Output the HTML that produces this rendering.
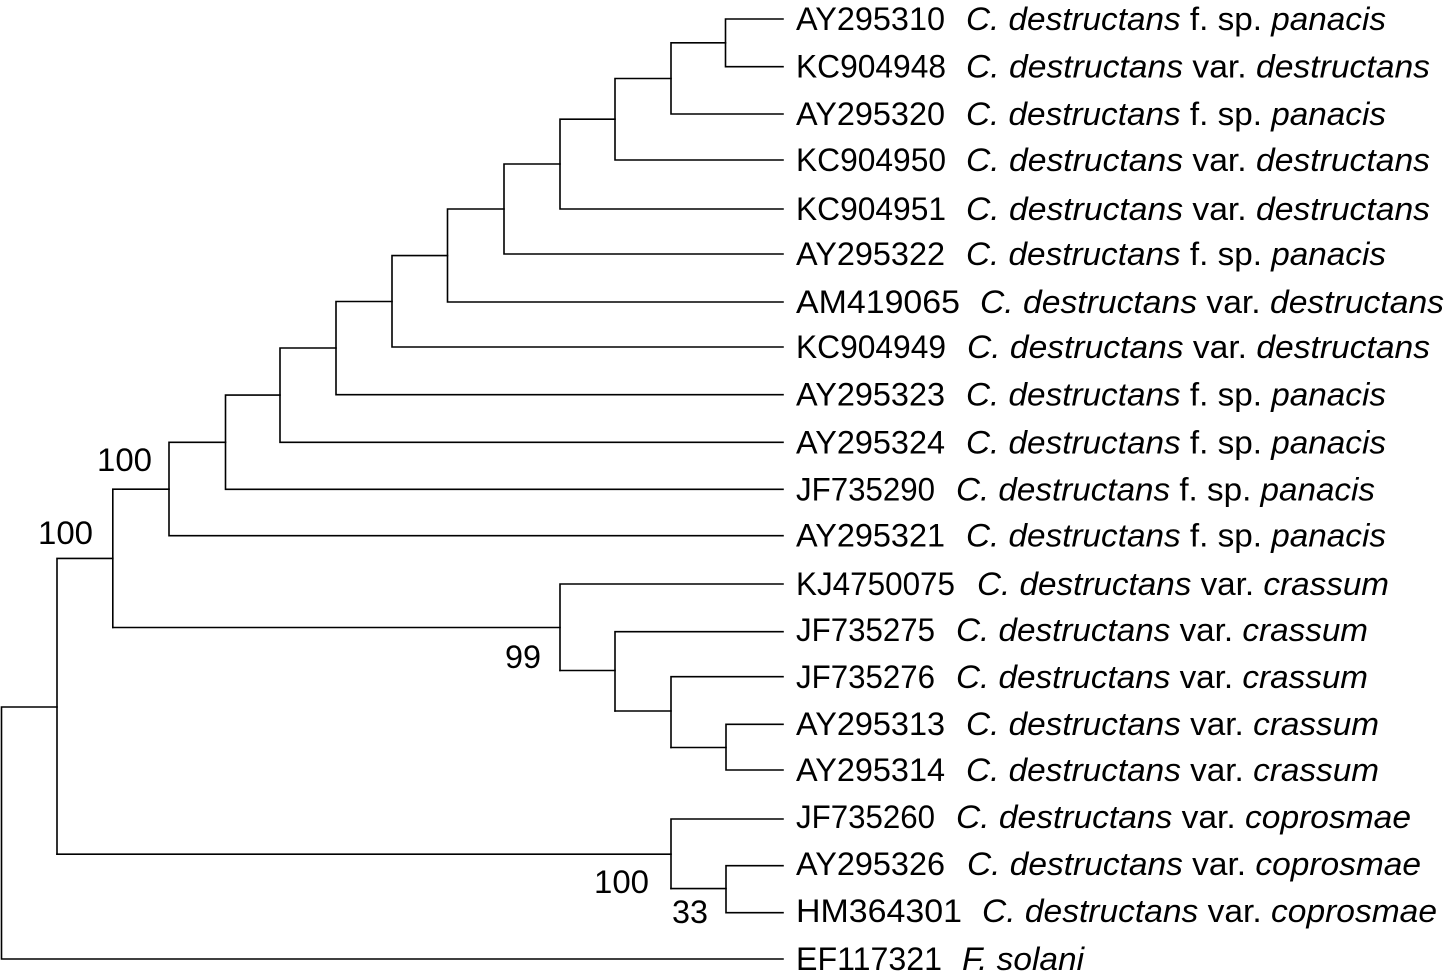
<!DOCTYPE html>
<html>
<head>
<meta charset="utf-8">
<style>
  html, body { margin: 0; padding: 0; background: #ffffff; }
  svg { display: block; }
  text { font-family: "Liberation Sans", Arial, sans-serif; font-size: 32px; fill: #000; }
  .i { font-style: italic; }
</style>
</head>
<body>
<svg width="1447" height="978" viewBox="0 0 1447 978" xmlns="http://www.w3.org/2000/svg">
  <g stroke="#000" stroke-width="1.6" fill="none" stroke-linecap="square">
    <!-- A -->
    <path d="M783 19 H725.5 V66.7 H783"/>
    <!-- B -->
    <path d="M725.5 42.8 H671 V114 H783"/>
    <!-- C -->
    <path d="M671 78.5 H615 V160 H783"/>
    <!-- D -->
    <path d="M615 119.2 H560 V209 H783"/>
    <!-- E -->
    <path d="M560 164 H504 V254 H783"/>
    <!-- F -->
    <path d="M504 209 H447.5 V302 H783"/>
    <!-- G -->
    <path d="M447.5 255.6 H392 V347 H783"/>
    <!-- H -->
    <path d="M392 301.5 H336 V394.7 H783"/>
    <!-- I -->
    <path d="M336 348 H280 V442.3 H783"/>
    <!-- J -->
    <path d="M280 395.1 H225.5 V489.3 H783"/>
    <!-- K -->
    <path d="M225.5 442.3 H169 V535.7 H783"/>
    <!-- L -->
    <path d="M169 489.2 H112.8 V627.5"/>
    <!-- M -->
    <path d="M112.8 627.5 H560"/>
    <path d="M783 584 H560 V670.5"/>
    <!-- N -->
    <path d="M560 670.5 H615 V631.7 H783"/>
    <path d="M615 670.5 V711"/>
    <!-- O -->
    <path d="M615 711 H671 V676.7 H783"/>
    <path d="M671 711 V747.5"/>
    <!-- P -->
    <path d="M671 747.5 H726 V724.3 H783"/>
    <path d="M726 747.5 V770 H783"/>
    <!-- Q -->
    <path d="M112.8 558.4 H57 V854.2"/>
    <!-- R -->
    <path d="M57 854.2 H671 V819 H783"/>
    <path d="M671 854.2 V888.6"/>
    <!-- S -->
    <path d="M671 888.6 H726 V865.7 H783"/>
    <path d="M726 888.6 V912.7 H783"/>
    <!-- Root -->
    <path d="M57 707 H1.5 V959 H783"/>
  </g>

  <!-- bootstrap labels -->
  <text x="97" y="471" textLength="55" lengthAdjust="spacingAndGlyphs">100</text>
  <text x="38" y="544" textLength="55" lengthAdjust="spacingAndGlyphs">100</text>
  <text x="505" y="668" textLength="36" lengthAdjust="spacingAndGlyphs">99</text>
  <text x="594" y="893" textLength="55" lengthAdjust="spacingAndGlyphs">100</text>
  <text x="672" y="923" textLength="36" lengthAdjust="spacingAndGlyphs">33</text>

  <!-- leaf labels -->
  <text x="796" y="30" textLength="149" lengthAdjust="spacingAndGlyphs">AY295310</text>
  <text x="966" y="30" textLength="420" lengthAdjust="spacingAndGlyphs"><tspan class="i">C. destructans</tspan> f. sp. <tspan class="i">panacis</tspan></text>

  <text x="796" y="77.7" textLength="150" lengthAdjust="spacingAndGlyphs">KC904948</text>
  <text x="966" y="77.7" textLength="464" lengthAdjust="spacingAndGlyphs"><tspan class="i">C. destructans</tspan> var. <tspan class="i">destructans</tspan></text>

  <text x="796" y="125" textLength="149" lengthAdjust="spacingAndGlyphs">AY295320</text>
  <text x="966" y="125" textLength="420" lengthAdjust="spacingAndGlyphs"><tspan class="i">C. destructans</tspan> f. sp. <tspan class="i">panacis</tspan></text>

  <text x="796" y="171" textLength="150" lengthAdjust="spacingAndGlyphs">KC904950</text>
  <text x="966" y="171" textLength="464" lengthAdjust="spacingAndGlyphs"><tspan class="i">C. destructans</tspan> var. <tspan class="i">destructans</tspan></text>

  <text x="796" y="220" textLength="150" lengthAdjust="spacingAndGlyphs">KC904951</text>
  <text x="966" y="220" textLength="464" lengthAdjust="spacingAndGlyphs"><tspan class="i">C. destructans</tspan> var. <tspan class="i">destructans</tspan></text>

  <text x="796" y="265" textLength="149" lengthAdjust="spacingAndGlyphs">AY295322</text>
  <text x="966" y="265" textLength="420" lengthAdjust="spacingAndGlyphs"><tspan class="i">C. destructans</tspan> f. sp. <tspan class="i">panacis</tspan></text>

  <text x="796" y="313" textLength="164" lengthAdjust="spacingAndGlyphs">AM419065</text>
  <text x="980" y="313" textLength="464" lengthAdjust="spacingAndGlyphs"><tspan class="i">C. destructans</tspan> var. <tspan class="i">destructans</tspan></text>

  <text x="796" y="358" textLength="150" lengthAdjust="spacingAndGlyphs">KC904949</text>
  <text x="967" y="358" textLength="463" lengthAdjust="spacingAndGlyphs"><tspan class="i">C. destructans</tspan> var. <tspan class="i">destructans</tspan></text>

  <text x="796" y="405.7" textLength="149" lengthAdjust="spacingAndGlyphs">AY295323</text>
  <text x="966" y="405.7" textLength="420" lengthAdjust="spacingAndGlyphs"><tspan class="i">C. destructans</tspan> f. sp. <tspan class="i">panacis</tspan></text>

  <text x="796" y="453.3" textLength="149" lengthAdjust="spacingAndGlyphs">AY295324</text>
  <text x="966" y="453.3" textLength="420" lengthAdjust="spacingAndGlyphs"><tspan class="i">C. destructans</tspan> f. sp. <tspan class="i">panacis</tspan></text>

  <text x="796" y="500.3" textLength="139" lengthAdjust="spacingAndGlyphs">JF735290</text>
  <text x="956" y="500.3" textLength="419" lengthAdjust="spacingAndGlyphs"><tspan class="i">C. destructans</tspan> f. sp. <tspan class="i">panacis</tspan></text>

  <text x="796" y="546.7" textLength="149" lengthAdjust="spacingAndGlyphs">AY295321</text>
  <text x="966" y="546.7" textLength="420" lengthAdjust="spacingAndGlyphs"><tspan class="i">C. destructans</tspan> f. sp. <tspan class="i">panacis</tspan></text>

  <text x="796" y="595" textLength="159" lengthAdjust="spacingAndGlyphs">KJ4750075</text>
  <text x="977" y="595" textLength="412" lengthAdjust="spacingAndGlyphs"><tspan class="i">C. destructans</tspan> var. <tspan class="i">crassum</tspan></text>

  <text x="796" y="641" textLength="139" lengthAdjust="spacingAndGlyphs">JF735275</text>
  <text x="956" y="641" textLength="412" lengthAdjust="spacingAndGlyphs"><tspan class="i">C. destructans</tspan> var. <tspan class="i">crassum</tspan></text>

  <text x="796" y="688" textLength="139" lengthAdjust="spacingAndGlyphs">JF735276</text>
  <text x="956" y="688" textLength="412" lengthAdjust="spacingAndGlyphs"><tspan class="i">C. destructans</tspan> var. <tspan class="i">crassum</tspan></text>

  <text x="796" y="735" textLength="149" lengthAdjust="spacingAndGlyphs">AY295313</text>
  <text x="966" y="735" textLength="413" lengthAdjust="spacingAndGlyphs"><tspan class="i">C. destructans</tspan> var. <tspan class="i">crassum</tspan></text>

  <text x="796" y="781" textLength="149" lengthAdjust="spacingAndGlyphs">AY295314</text>
  <text x="966" y="781" textLength="413" lengthAdjust="spacingAndGlyphs"><tspan class="i">C. destructans</tspan> var. <tspan class="i">crassum</tspan></text>

  <text x="796" y="828" textLength="139" lengthAdjust="spacingAndGlyphs">JF735260</text>
  <text x="956" y="828" textLength="455" lengthAdjust="spacingAndGlyphs"><tspan class="i">C. destructans</tspan> var. <tspan class="i">coprosmae</tspan></text>

  <text x="796" y="875" textLength="149" lengthAdjust="spacingAndGlyphs">AY295326</text>
  <text x="967" y="875" textLength="454" lengthAdjust="spacingAndGlyphs"><tspan class="i">C. destructans</tspan> var. <tspan class="i">coprosmae</tspan></text>

  <text x="796" y="922" textLength="166" lengthAdjust="spacingAndGlyphs">HM364301</text>
  <text x="982" y="922" textLength="455" lengthAdjust="spacingAndGlyphs"><tspan class="i">C. destructans</tspan> var. <tspan class="i">coprosmae</tspan></text>

  <text x="796" y="970" textLength="146" lengthAdjust="spacingAndGlyphs">EF117321</text>
  <text x="962" y="970" textLength="122" lengthAdjust="spacingAndGlyphs"><tspan class="i">F. solani</tspan></text>
</svg>
</body>
</html>
